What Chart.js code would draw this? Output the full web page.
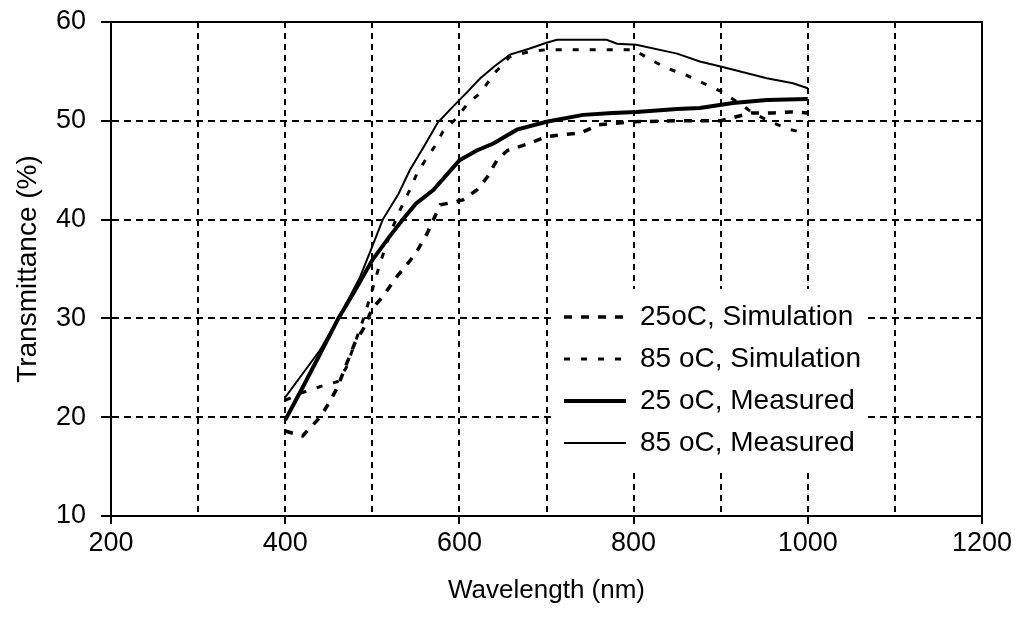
<!DOCTYPE html>
<html>
<head>
<meta charset="utf-8">
<script src="https://cdn.jsdelivr.net/npm/chart.js@4/dist/chart.umd.min.js"></script>
<style>
  html, body { margin: 0; padding: 0; background: #fff; }
  #wrap { width: 1018px; height: 623px; }
</style>
</head>
<body>
<div id="wrap"><canvas id="canvas"></canvas></div>
<script>
/* data */
const sim25Nm = [400,420,440,450,460,470,480,490,500,512,528,541,550,563,578,590,604,620,632,643,655,680,700,740,760,800,850,900,935,960,980,1000];
const sim25 = [18.6,18.1,20.0,21.4,23.0,25.3,27.5,29.0,31.0,32.2,34.2,35.6,36.6,38.6,41.5,41.7,42.0,43.0,44.3,46.0,47.0,47.7,48.4,48.8,49.6,49.9,50.0,50.0,50.8,50.8,50.9,50.8];

const sim85Nm = [400,420,440,460,470,480,490,500,509,520,532,543,552,563,574,581,597,610,624,640,658,680,700,750,800,819,839,861,880,900,919,937,957,980,1000];
const sim85 = [21.7,22.5,23.1,23.6,25.0,27.5,30.0,32.9,35.6,38.5,41.0,43.0,44.8,46.3,47.7,48.9,50.3,51.8,52.8,54.8,56.5,57.0,57.2,57.2,57.2,56.2,55.3,54.6,53.8,53.0,51.9,50.8,49.9,49.1,48.7];

const meas25Nm = [400,420,440,461,480,500,520,535,550,570,600,620,639,666,700,742,776,803,850,876,914,953,1000];
const meas25 = [19.7,23.0,26.4,30.0,32.8,35.9,38.3,40.0,41.6,43.0,46.0,47.0,47.7,49.1,49.9,50.6,50.8,50.9,51.2,51.3,51.8,52.1,52.2];

const meas85Nm = [400,420,440,461,486,500,512,530,543,560,575,589,610,624,640,658,680,700,712,769,781,803,850,876,900,953,983,1000];
const meas85 = [22.0,24.4,26.8,30.0,34.2,37.3,40.0,42.6,45.0,47.5,49.8,51.1,53.0,54.3,55.5,56.7,57.3,57.9,58.2,58.2,57.8,57.7,56.8,56.0,55.5,54.3,53.8,53.3];

const seriesNames = ['25oC, Simulation', '85 oC, Simulation', '25 oC, Measured', '85 oC, Measured'];

const xMin = 200, xMax = 1200, xStep = 100;
const yMin = 10, yMax = 60, yStep = 10;

function pts(xs, ys) {
    return xs.map(function (x, i) { return {x: x, y: ys[i]}; });
}

const FONT = "'Liberation Sans', Arial, sans-serif";
const FS = 28;
Chart.defaults.font.family = FONT;
Chart.defaults.color = '#000';

/* white box behind legend + solid frame on top and right */
const frame = {
    id: 'frame',
    afterLayout(chart) {
        const lg = chart.legend, ca = chart.chartArea;
        lg.left = 550;
        lg.top = 289;
        lg.right = ca.right;
        lg.bottom = ca.bottom;
    },
    beforeDatasetsDraw(chart) {
        const ctx = chart.ctx, lg = chart.legend;
        const hb = lg.legendHitBoxes;
        if (hb && hb.length) {
            let l = Infinity, t = Infinity, r = -Infinity, b = -Infinity;
            hb.forEach(function (h) {
                l = Math.min(l, h.left); t = Math.min(t, h.top);
                r = Math.max(r, h.left + h.width); b = Math.max(b, h.top + h.height);
            });
            ctx.save();
            ctx.fillStyle = '#fff';
            ctx.fillRect(l - 8, t - 14, r - l + 14, b - t + 28);
            ctx.restore();
            lg.draw();
        }
    },
    afterDraw(chart) {
        const ctx = chart.ctx, ca = chart.chartArea;
        ctx.save();
        ctx.strokeStyle = '#000';
        ctx.lineWidth = 2;
        ctx.beginPath();
        ctx.moveTo(ca.left, ca.top);
        ctx.lineTo(ca.right, ca.top);
        ctx.lineTo(ca.right, ca.bottom);
        ctx.stroke();
        ctx.restore();
    }
};

const ctx = document.getElementById('canvas');
new Chart(ctx, {
    type: 'line',
    data: {
        datasets: [{
            label: seriesNames[0],
            data: pts(sim25Nm, sim25),
            borderColor: '#000',
            borderWidth: 3.5,
            borderDash: [8, 9],
            pointRadius: 0
        }, {
            label: seriesNames[1],
            data: pts(sim85Nm, sim85),
            borderColor: '#000',
            borderWidth: 3,
            borderDash: [6, 11],
            pointRadius: 0
        }, {
            label: seriesNames[2],
            data: pts(meas25Nm, meas25),
            borderColor: '#000',
            borderWidth: 4,
            pointRadius: 0
        }, {
            label: seriesNames[3],
            data: pts(meas85Nm, meas85),
            borderColor: '#000',
            borderWidth: 2,
            pointRadius: 0
        }]
    },
    options: {
        responsive: true,
        maintainAspectRatio: false,
        animation: false,
        layout: { padding: { top: 22, right: 36, left: 0, bottom: 0 } },
        plugins: {
            tooltip: { enabled: false },
            legend: {
                position: 'chartArea',
                align: 'start',
                labels: {
                    usePointStyle: true,
                    pointStyle: 'line',
                    pointStyleWidth: 62,
                    boxHeight: FS,
                    padding: 14,
                    color: '#000',
                    font: { size: FS, family: FONT },
                    generateLabels: function (chart) {
                        const items = Chart.defaults.plugins.legend.labels.generateLabels(chart);
                        items.forEach(function (it) {
                            const ds = chart.data.datasets[it.datasetIndex];
                            it.lineDash = ds.borderDash || [];
                            it.lineWidth = ds.borderWidth;
                            it.strokeStyle = ds.borderColor;
                        });
                        return items;
                    }
                }
            }
        },
        scales: {
            x: {
                type: 'linear',
                min: xMin,
                max: xMax,
                afterFit: function (s) { s.height = 107; },
                ticks: {
                    stepSize: xStep,
                    autoSkip: false,
                    maxRotation: 0,
                    padding: 3,
                    color: '#000',
                    font: { size: 27 },
                    callback: function (v) { return v % 200 === 0 ? v : ''; }
                },
                grid: {
                    color: function (c) {
                        const v = c.tick && c.tick.value;
                        return (v === xMin || v === xMax) ? 'rgba(0,0,0,0)' : '#000';
                    },
                    lineWidth: 2,
                    tickLength: 8,
                    tickWidth: 2,
                    tickColor: function (c) {
                        return c.tick && c.tick.value % 200 === 0 ? '#000' : 'rgba(0,0,0,0)';
                    }
                },
                border: { display: true, color: '#000', width: 2, dash: [6, 5] },
                title: {
                    display: true,
                    text: 'Wavelength (nm)',
                    color: '#000',
                    font: { size: 26 },
                    padding: { top: 0, bottom: 17 }
                }
            },
            y: {
                type: 'linear',
                min: yMin,
                max: yMax,
                afterFit: function (s) { s.width = 111; s.paddingTop = 0; s.paddingBottom = 0; },
                ticks: {
                    stepSize: yStep,
                    padding: 15,
                    color: '#000',
                    font: { size: 27 }
                },
                grid: {
                    color: function (c) {
                        const v = c.tick && c.tick.value;
                        return (v === yMin || v === yMax) ? 'rgba(0,0,0,0)' : '#000';
                    },
                    lineWidth: 2,
                    tickLength: 10,
                    tickWidth: 2,
                    tickColor: '#000'
                },
                border: { display: true, color: '#000', width: 2, dash: [7, 5] },
                title: {
                    display: true,
                    text: 'Transmittance (%)',
                    color: '#000',
                    font: { size: FS },
                    padding: { top: 11, bottom: 0 }
                }
            }
        }
    },
    plugins: [frame]
});
</script>
</body>
</html>
